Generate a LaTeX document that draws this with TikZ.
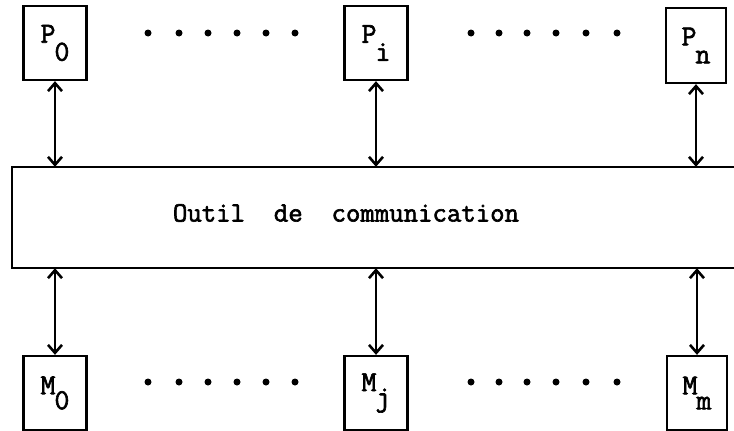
\documentclass[tikz,border=0pt]{standalone}
\usepackage{fontspec}
\newfontfamily\typewriter{Latin Modern Mono}[BoldFont={Latin Modern Mono}, BoldFeatures={FakeBold=2.2}]
\usetikzlibrary{arrows.meta}
\tikzset{
  unitbox/.style={draw, line width=2.3pt, minimum width=63pt, minimum height=74pt, inner sep=0pt},
  lbl/.style={font=\typewriter\bfseries\fontsize{29}{29}\selectfont},
  barb/.tip={Straight Barb[length=8pt,width=14pt,line width=2.6pt]},
  link/.style={line width=2.6pt, barb-barb},
  bus/.style={line width=2.3pt},
  ellipsisdot/.style={fill, circle, inner sep=0pt, minimum size=7pt}
}
% name with a lowered index, typewriter style
\newcommand{\lab}[3][18pt]{#2\kern-1pt\raisebox{-#1}{#3}}
\begin{document}
\begin{tikzpicture}[x=1pt, y=-1pt]
  \useasboundingbox (0,0) rectangle (734,431);

  % processors
  \node[unitbox] (p0) at (55,43) {};
  \node[unitbox] (pi) at (376,43) {};
  \node[unitbox, minimum width=60pt, minimum height=75pt] (pn) at (696,45.5) {};
  \node[lbl] at (p0) {\lab{P}{0}};
  \node[lbl] at (pi) {\lab{P}{i}};
  \node[lbl] at (pn) {\lab{P}{n}};

  % memories
  \node[unitbox] (m0) at (55,393) {};
  \node[unitbox] (mj) at (376,393) {};
  \node[unitbox, minimum width=60pt] (mm) at (697,393) {};
  \node[lbl] at (m0) {\lab[15pt]{M}{0}};
  \node[lbl] at (mj) {\lab[15pt]{M}{j}};
  \node[lbl] at (mm) {\lab[15pt]{M}{m}};

  % communication bus, open on the right
  \node[minimum width=730pt, minimum height=101pt, inner sep=0pt] (bus) at (377,217.5) {};
  \draw[bus] (bus.north east) -- (bus.north west) -- (bus.south west) -- (bus.south east);
  \node[lbl, font=\typewriter\bfseries\fontsize{28}{28}\selectfont] (txt) at (346,213) {Outil\ \ de\ \ communication};

  % links
  \foreach \u in {p0,pi,pn}
    \draw[link] (\u.south) -- (\u.south |- bus.north);
  \foreach \u in {m0,mj,mm}
    \draw[link] (\u.north |- bus.south) -- (\u.north);

  % ellipsis dots
  \foreach \x in {148,179,208,237,266,295,471,499,527,556,586,617} {
    \node[ellipsisdot] at (\x,33) {};
    \node[ellipsisdot] at (\x,382) {};
  }
\end{tikzpicture}
\end{document}
